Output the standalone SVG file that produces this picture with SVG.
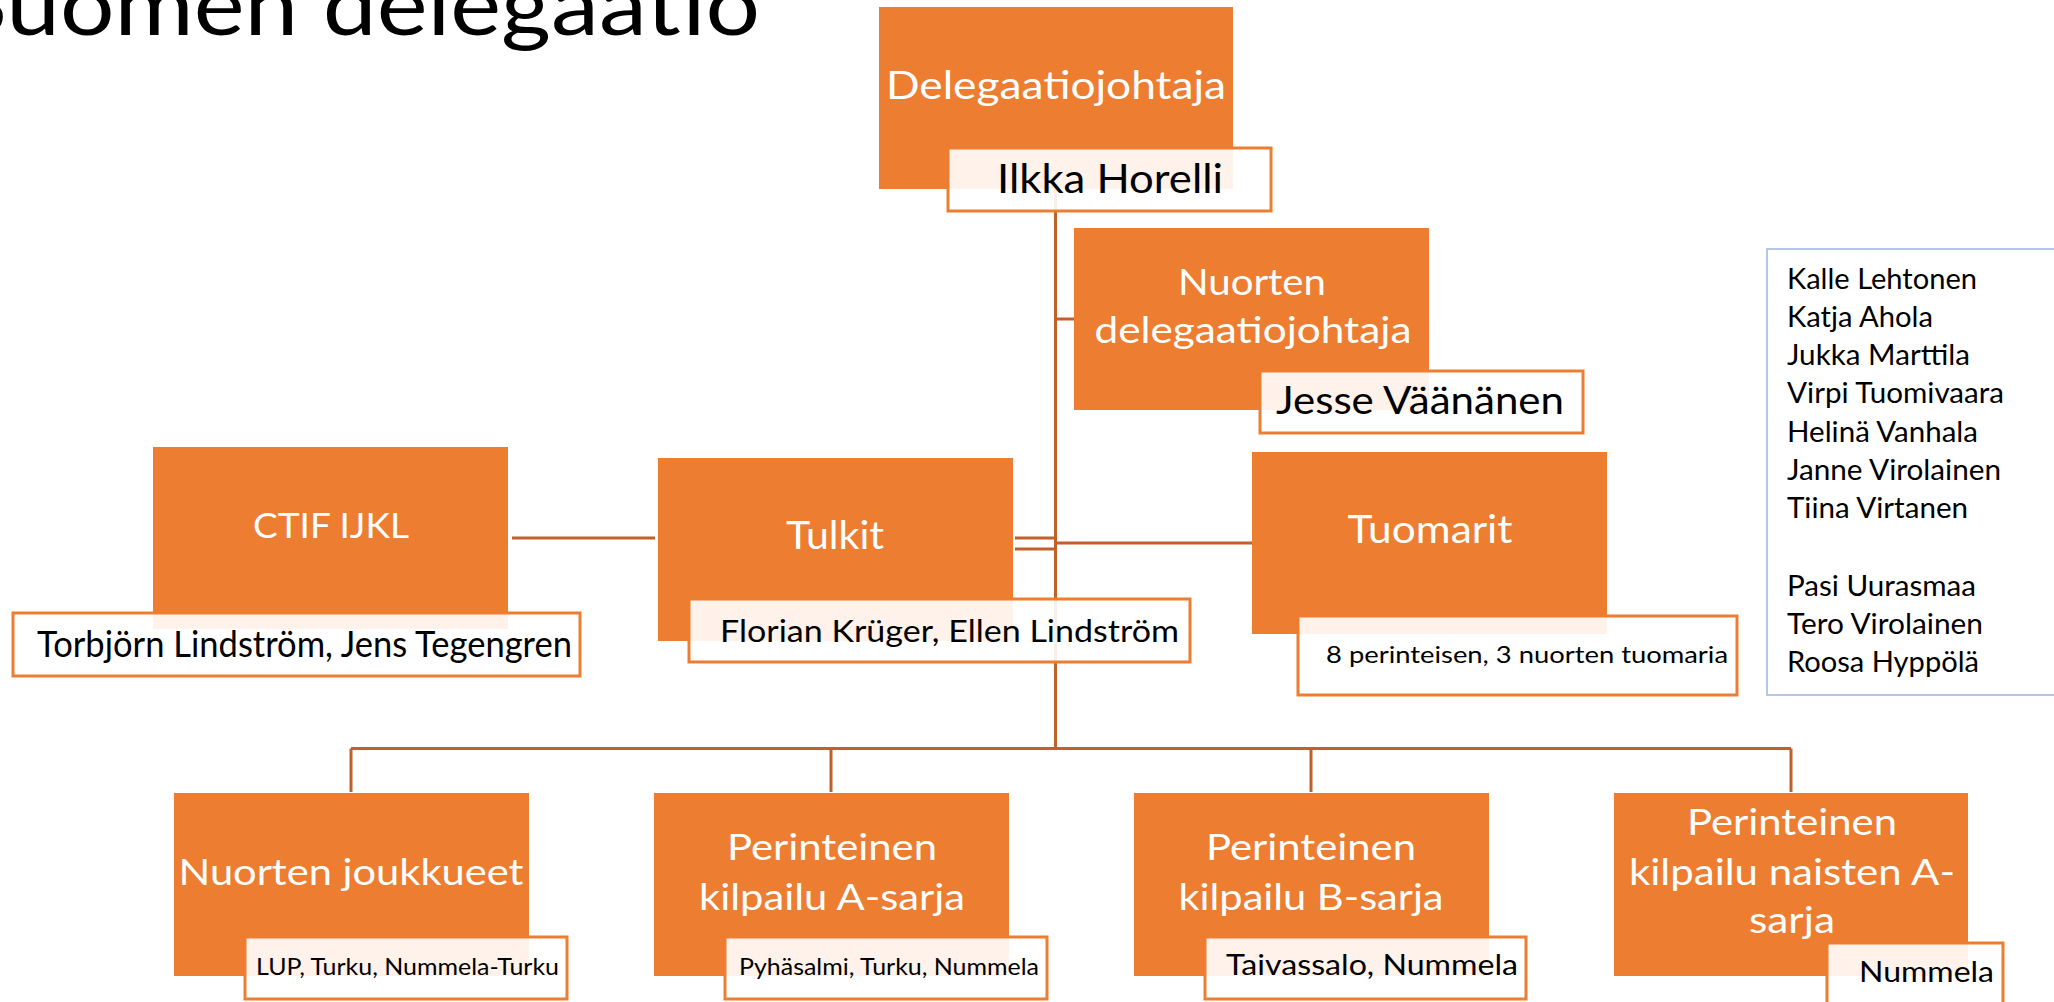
<svg xmlns="http://www.w3.org/2000/svg" width="2054" height="1002" viewBox="0 0 2054 1002">
<style>
.box{fill:#ED7D31}
.lbl{fill:#FFFFFF;fill-opacity:0.9;stroke:#ED7D31;stroke-width:3}
.wt{font-family:Lato,"Open Sans",sans-serif;fill:#FFFFFF;text-anchor:middle}
.bt{font-family:Lato,"Open Sans",sans-serif;fill:#000000}
.conn{stroke:#C0612B;stroke-width:3;fill:none}
.list{font-family:Lato,"Open Sans",sans-serif;fill:#000000;font-size:28px}
</style>
<rect width="2054" height="1002" fill="#FFFFFF"/>
<text x="-45" y="35" font-family="Lato,'Open Sans',sans-serif" font-size="86" fill="#000000" textLength="805" lengthAdjust="spacingAndGlyphs">Suomen delegaatio</text>

<g id="connectors">
<path class="conn" d="M1055.5 189 V749"/>
<path class="conn" d="M1055.5 319 H1074"/>
<path class="conn" d="M1015 538 H1055.5 M1015 549 H1055.5"/>
<path class="conn" d="M1055.5 543 H1252"/>
<path class="conn" d="M512 538 H655"/>
<path class="conn" d="M351 748.5 H1791 M351 748.5 V792 M831 748.5 V792 M1311 748.5 V792 M1791 748.5 V792"/>
</g>

<g id="n-delegaatiojohtaja">
<rect class="box" x="879" y="7" width="354" height="182"/>
<text class="wt" x="1056" y="99" font-size="39" textLength="340" lengthAdjust="spacingAndGlyphs">Delegaatiojohtaja</text>
<rect class="lbl" x="948" y="148" width="323" height="63"/>
<text class="bt" x="997" y="193" font-size="40" textLength="226" lengthAdjust="spacingAndGlyphs">Ilkka Horelli</text>
</g>

<g id="n-nuorten-delegaatiojohtaja">
<rect class="box" x="1074" y="228" width="355" height="182"/>
<text class="wt" x="1252" y="295" font-size="37" textLength="148" lengthAdjust="spacingAndGlyphs">Nuorten</text>
<text class="wt" x="1253" y="343" font-size="37" textLength="317" lengthAdjust="spacingAndGlyphs">delegaatiojohtaja</text>
<rect class="lbl" x="1260" y="371" width="323" height="62"/>
<text class="bt" x="1276" y="414" font-size="38" textLength="288" lengthAdjust="spacingAndGlyphs">Jesse Väänänen</text>
</g>

<g id="n-ctif">
<rect class="box" x="153" y="447" width="355" height="182"/>
<text class="wt" x="331" y="538" font-size="35" textLength="156" lengthAdjust="spacingAndGlyphs">CTIF IJKL</text>
<rect class="lbl" x="13" y="613" width="567" height="63"/>
<text class="bt" x="37" y="657" font-size="37" textLength="535" lengthAdjust="spacingAndGlyphs">Torbjörn Lindström, Jens Tegengren</text>
</g>

<g id="n-tulkit">
<rect class="box" x="658" y="458" width="355" height="183"/>
<text class="wt" x="835" y="549" font-size="38" textLength="98" lengthAdjust="spacingAndGlyphs">Tulkit</text>
<rect class="lbl" x="689" y="599" width="501" height="63"/>
<text class="bt" x="720" y="642" font-size="31" textLength="459" lengthAdjust="spacingAndGlyphs">Florian Krüger, Ellen Lindström</text>
</g>

<g id="n-tuomarit">
<rect class="box" x="1252" y="452" width="355" height="182"/>
<text class="wt" x="1430" y="543" font-size="38" textLength="165" lengthAdjust="spacingAndGlyphs">Tuomarit</text>
<rect class="lbl" x="1298" y="616" width="439" height="79"/>
<text class="bt" x="1326" y="663" font-size="24" textLength="402" lengthAdjust="spacingAndGlyphs">8 perinteisen, 3 nuorten tuomaria</text>
</g>

<g id="n-list">
<rect x="1767" y="249" width="300" height="446" fill="#FFFFFF" stroke="#B4C7E7" stroke-width="2"/>
<text class="list" x="1787" y="289" textLength="190" lengthAdjust="spacingAndGlyphs">Kalle Lehtonen</text>
<text class="list" x="1787" y="327" textLength="146" lengthAdjust="spacingAndGlyphs">Katja Ahola</text>
<text class="list" x="1787" y="365" textLength="183" lengthAdjust="spacingAndGlyphs">Jukka Marttila</text>
<text class="list" x="1787" y="403" textLength="217" lengthAdjust="spacingAndGlyphs">Virpi Tuomivaara</text>
<text class="list" x="1787" y="442" textLength="191" lengthAdjust="spacingAndGlyphs">Helinä Vanhala</text>
<text class="list" x="1787" y="480" textLength="214" lengthAdjust="spacingAndGlyphs">Janne Virolainen</text>
<text class="list" x="1787" y="518" textLength="181" lengthAdjust="spacingAndGlyphs">Tiina Virtanen</text>
<text class="list" x="1787" y="596" textLength="189" lengthAdjust="spacingAndGlyphs">Pasi Uurasmaa</text>
<text class="list" x="1787" y="634" textLength="196" lengthAdjust="spacingAndGlyphs">Tero Virolainen</text>
<text class="list" x="1787" y="672" textLength="192" lengthAdjust="spacingAndGlyphs">Roosa Hyppölä</text>
</g>

<g id="n-nuorten-joukkueet">
<rect class="box" x="174" y="793" width="355" height="183"/>
<text class="wt" x="351" y="885" font-size="37" textLength="345" lengthAdjust="spacingAndGlyphs">Nuorten joukkueet</text>
<rect class="lbl" x="245" y="937" width="322" height="62"/>
<text class="bt" x="256" y="975" font-size="23" textLength="303" lengthAdjust="spacingAndGlyphs">LUP, Turku, Nummela-Turku</text>
</g>

<g id="n-perinteinen-a">
<rect class="box" x="654" y="793" width="355" height="183"/>
<text class="wt" x="832" y="860" font-size="37" textLength="210" lengthAdjust="spacingAndGlyphs">Perinteinen</text>
<text class="wt" x="832" y="910" font-size="37" textLength="266" lengthAdjust="spacingAndGlyphs">kilpailu A-sarja</text>
<rect class="lbl" x="725" y="937" width="322" height="62"/>
<text class="bt" x="739" y="975" font-size="23" textLength="300" lengthAdjust="spacingAndGlyphs">Pyhäsalmi, Turku, Nummela</text>
</g>

<g id="n-perinteinen-b">
<rect class="box" x="1134" y="793" width="355" height="183"/>
<text class="wt" x="1311" y="860" font-size="37" textLength="210" lengthAdjust="spacingAndGlyphs">Perinteinen</text>
<text class="wt" x="1311" y="910" font-size="37" textLength="265" lengthAdjust="spacingAndGlyphs">kilpailu B-sarja</text>
<rect class="lbl" x="1205" y="937" width="321" height="62"/>
<text class="bt" x="1226" y="975" font-size="28" textLength="292" lengthAdjust="spacingAndGlyphs">Taivassalo, Nummela</text>
</g>

<g id="n-perinteinen-naisten">
<rect class="box" x="1614" y="793" width="354" height="183"/>
<text class="wt" x="1792" y="835" font-size="37" textLength="210" lengthAdjust="spacingAndGlyphs">Perinteinen</text>
<text class="wt" x="1792" y="885" font-size="37" textLength="326" lengthAdjust="spacingAndGlyphs">kilpailu naisten A-</text>
<text class="wt" x="1792" y="933" font-size="37" textLength="86" lengthAdjust="spacingAndGlyphs">sarja</text>
<rect class="lbl" x="1827" y="943" width="176" height="70"/>
<text class="bt" x="1859" y="982" font-size="28" textLength="135" lengthAdjust="spacingAndGlyphs">Nummela</text>
</g>
</svg>
